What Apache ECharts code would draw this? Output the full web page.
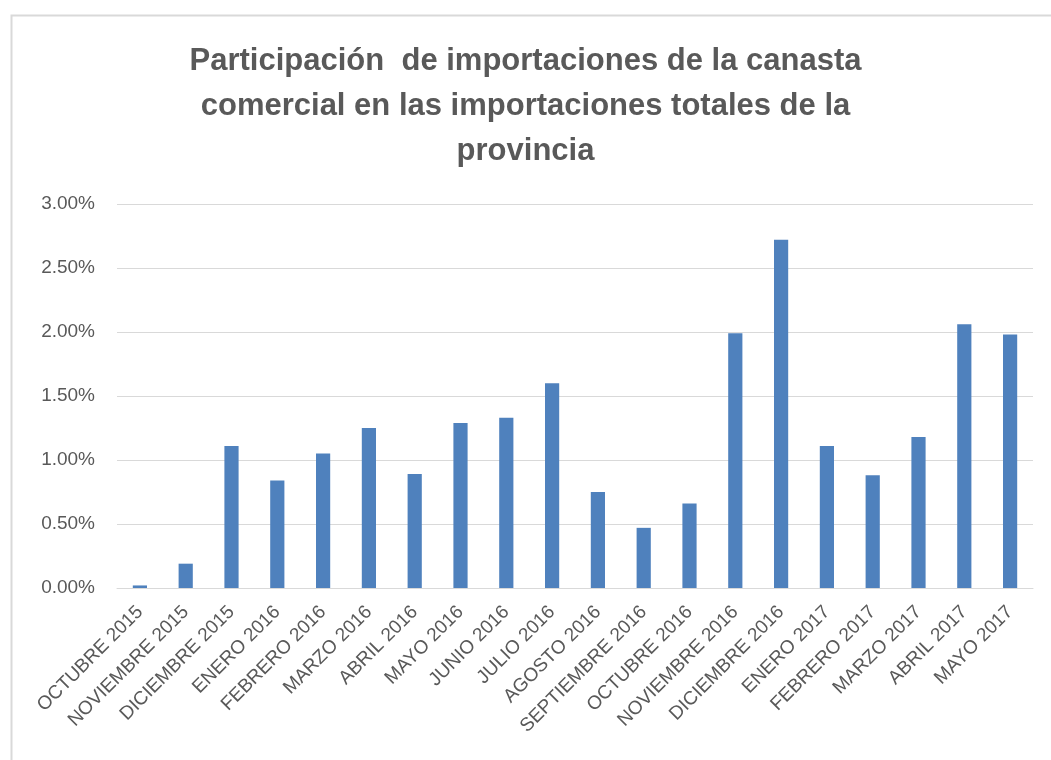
<!DOCTYPE html>
<html>
<head>
<meta charset="utf-8">
<script src="https://cdn.jsdelivr.net/npm/echarts@6/dist/echarts.min.js"></script>
<style>
  html, body { margin: 0; padding: 0; background: #fff; }
  #chart { width: 1051px; height: 760px; }
</style>
</head>
<body>
<div id="chart"></div>
<script>
// meses (eje x)
var meses = [
  'OCTUBRE 2015', 'NOVIEMBRE 2015', 'DICIEMBRE 2015', 'ENERO 2016', 'FEBRERO 2016',
  'MARZO 2016', 'ABRIL 2016', 'MAYO 2016', 'JUNIO 2016', 'JULIO 2016',
  'AGOSTO 2016', 'SEPTIEMBRE 2016', 'OCTUBRE 2016', 'NOVIEMBRE 2016', 'DICIEMBRE 2016',
  'ENERO 2017', 'FEBRERO 2017', 'MARZO 2017', 'ABRIL 2017', 'MAYO 2017'
];
// participacion en %
var participacion = [
  0.02, 0.19, 1.11, 0.84, 1.05,
  1.25, 0.89, 1.29, 1.33, 1.60,
  0.75, 0.47, 0.66, 1.99, 2.72,
  1.11, 0.88, 1.18, 2.06, 1.98
];
var titulo = 'Participación  de importaciones de la canasta\ncomercial en las importaciones totales de la\nprovincia';

var gris = '#595959';
var myChart = echarts.init(document.getElementById('chart'));
var option = {
  backgroundColor: '#fff',
  textStyle: { fontFamily: 'Liberation Sans' },
  title: {
    text: titulo,
    left: 'center',
    top: 34,
    textStyle: { color: gris, fontSize: 31, fontWeight: 'bold', lineHeight: 45, fontFamily: 'Liberation Sans' }
  },
  graphic: [{
    type: 'rect',
    left: 9, top: 13,
    shape: { width: 1060, height: 760 },
    style: { fill: 'none', stroke: '#d9d9d9', lineWidth: 2 },
    silent: true
  }],
  grid: { left: 117, right: 18, top: 204, bottom: 172, containLabel: false },
  xAxis: {
    type: 'category',
    data: meses,
    axisLine: { lineStyle: { color: '#d9d9d9', width: 1 } },
    axisTick: { show: false },
    axisLabel: { rotate: 45, interval: 0, color: gris, fontSize: 19, margin: 21 }
  },
  yAxis: {
    type: 'value',
    min: 0, max: 3, interval: 0.5,
    axisLine: { show: false },
    axisTick: { show: false },
    splitLine: { lineStyle: { color: '#d9d9d9', width: 1 } },
    axisLabel: {
      color: gris, fontSize: 19, margin: 22,
      formatter: function (v) { return v.toFixed(2) + '%'; }
    }
  },
  series: [{
    type: 'bar',
    data: participacion,
    barWidth: '31%',
    itemStyle: { color: '#4f81bd' }
  }]
};
myChart.setOption(option);
</script>
</body>
</html>
